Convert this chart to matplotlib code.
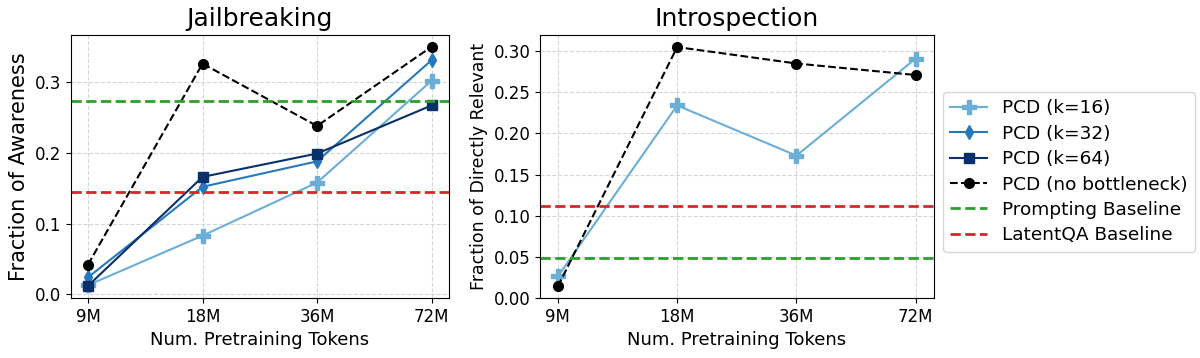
import matplotlib
matplotlib.use("Agg")
import matplotlib.pyplot as plt

tokens = ["9M", "18M", "36M", "72M"]

# Jailbreaking
jb_k16 = [0.013, 0.083, 0.158, 0.302]
jb_k32 = [0.024, 0.152, 0.188, 0.331]
jb_k64 = [0.012, 0.166, 0.199, 0.267]
jb_nobn = [0.042, 0.326, 0.238, 0.350]
jb_prompt = 0.273
jb_latentqa = 0.144

# Introspection
in_k16 = [0.026, 0.234, 0.173, 0.291]
in_nobn = [0.014, 0.305, 0.285, 0.271]
in_prompt = 0.048
in_latentqa = 0.112

c16 = "#6baed6"
c32 = "#2878bd"
c64 = "#08306b"
green = "#2ca02c"
red = "#d62728"

fig = plt.figure(figsize=(12, 3.58), dpi=100)
ax1 = fig.add_axes([0.059, 0.168, 0.315, 0.735])
ax2 = fig.add_axes([0.450, 0.168, 0.328, 0.735])

x = list(range(len(tokens)))

ax1.plot(x, jb_k16, color=c16, marker="P", markersize=10, label="PCD (k=16)")
ax1.plot(x, jb_k32, color=c32, marker="d", markersize=7, label="PCD (k=32)")
ax1.plot(x, jb_k64, color=c64, marker="s", markersize=7, label="PCD (k=64)")
ax1.plot(x, jb_nobn, color="black", linestyle="--", marker="o", markersize=7, label="PCD (no bottleneck)")
ax1.axhline(jb_prompt, color=green, linestyle="--", linewidth=2, label="Prompting Baseline")
ax1.axhline(jb_latentqa, color=red, linestyle="--", linewidth=2, label="LatentQA Baseline")
ax1.set_title("Jailbreaking", fontsize=18)
ax1.set_ylabel("Fraction of Awareness", fontsize=15)
ax1.set_xlabel("Num. Pretraining Tokens", fontsize=13)
ax1.set_yticks([0.0, 0.1, 0.2, 0.3])

ax2.plot(x, in_k16, color=c16, marker="P", markersize=10)
ax2.plot(x, in_nobn, color="black", linestyle="--", marker="o", markersize=7)
ax2.axhline(in_prompt, color=green, linestyle="--", linewidth=2)
ax2.axhline(in_latentqa, color=red, linestyle="--", linewidth=2)
ax2.set_title("Introspection", fontsize=18)
ax2.set_ylabel("Fraction of Directly Relevant", fontsize=12.5)
ax2.set_xlabel("Num. Pretraining Tokens", fontsize=13)
ax2.set_ylim(0, 0.32)
ax2.set_yticks([0.0, 0.05, 0.10, 0.15, 0.20, 0.25, 0.30])

for ax in (ax1, ax2):
    ax.set_xticks(x)
    ax.set_xticklabels(tokens)
    ax.tick_params(labelsize=12)
    ax.grid(True, linestyle="--", color="#cccccc", alpha=0.8)

handles, labels = ax1.get_legend_handles_labels()
fig.legend(handles, labels, loc="center left", bbox_to_anchor=(0.778, 0.52),
           fontsize=13.3, frameon=True, handlelength=2.0, labelspacing=0.4)

fig.savefig("out.png", dpi=100)
